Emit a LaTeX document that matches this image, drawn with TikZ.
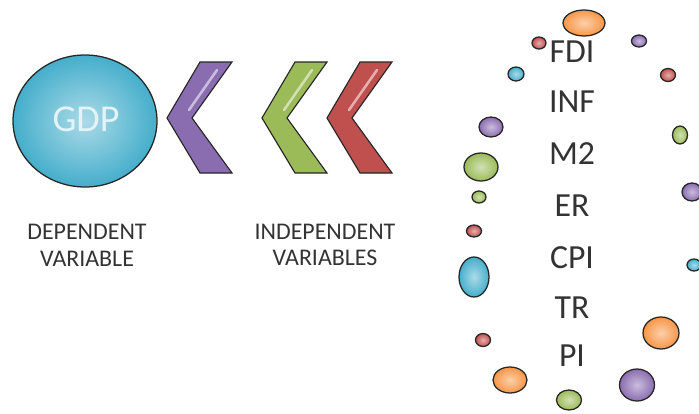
\documentclass[tikz,border=0pt]{standalone}
\usepackage{fontspec}
\setmainfont{Carlito}
\usetikzlibrary{positioning}
\definecolor{offaqua}{HTML}{45AECB}
\definecolor{offpurple}{HTML}{8A6DB0}
\definecolor{offgreen}{HTML}{9BBB59}
\definecolor{offred}{HTML}{C0504D}
\definecolor{offorange}{HTML}{F79646}
\definecolor{labgray}{HTML}{333333}
% chevron with its left tip at x = #1, filled in colour #2
\newcommand{\chevronat}[2]{%
  \draw[chev=#2] (#1+33,62) -- (#1+65,62) -- (#1+25,118) -- (#1+65,173) -- (#1+33,173) -- (#1,118) -- cycle;
  \draw[gloss=#2] (#1+50,70) -- (#1+22,110);
}
\tikzset{
  bubble/.style={draw=black!85,line width=0.9pt,inner color=#1!45!white,outer color=#1},
  chev/.style={draw=black!85,line width=0.8pt,fill=#1},
  gloss/.style={line width=1.8pt,line cap=round,#1!45!white},
  varlab/.style={font=\fontsize{24}{28}\selectfont,text=labgray,inner sep=0pt},
  caplab/.style={font=\fontsize{17}{19}\selectfont,text=labgray,align=center,inner sep=0pt},
  gdplab/.style={font=\fontsize{27}{30}\selectfont,text=offaqua!15!white,inner sep=0pt}
}

\begin{document}
\begin{tikzpicture}[x=0.025cm,y=-0.025cm]
  \useasboundingbox (0,0) rectangle (699,414);
  % dependent variable
  \draw[bubble=offaqua,line width=0.9pt] (85,121) ellipse [x radius=72,y radius=66];
  \node[gdplab] (gdp) at (86,119) {GDP};
  \node[caplab] (dep) at (87,245) {DEPENDENT\\VARIABLE};
  % arrows
  \chevronat{167}{offpurple}
  \chevronat{262}{offgreen}
  \chevronat{327}{offred}
  \node[caplab] (indep) at (325,245) {INDEPENDENT\\VARIABLES};
  % independent variables
  \foreach \name/\y in {FDI/52,INF/102,M2/154,ER/206,CPI/258,TR/308,PI/356}
    \node[varlab] (v\name) at (572,\y) {\name};
  \foreach \x/\y/\rx/\ry/\c in {584/23/21/13/offorange,539/43/7/6/offred,639/41/7.5/6/offpurple,
      516/74/8/7/offaqua,668/75/7.5/6.5/offred,491/127/12/10/offpurple,680/135/7.5/9/offgreen,
      481/167/17/14/offgreen,692/192/10/9/offpurple,479/197/7/6/offgreen,474/231/7.5/6/offred,
      474/277/15/20/offaqua,694/265/7/6/offaqua,661/333/18/16/offorange,483/340/7.5/6.5/offred,
      510/380/17/13/offorange,637/385/17.5/16/offpurple,569/400/12.5/10/offgreen}
    \draw[bubble=\c] (\x,\y) ellipse [x radius=\rx,y radius=\ry];
\end{tikzpicture}
\end{document}
